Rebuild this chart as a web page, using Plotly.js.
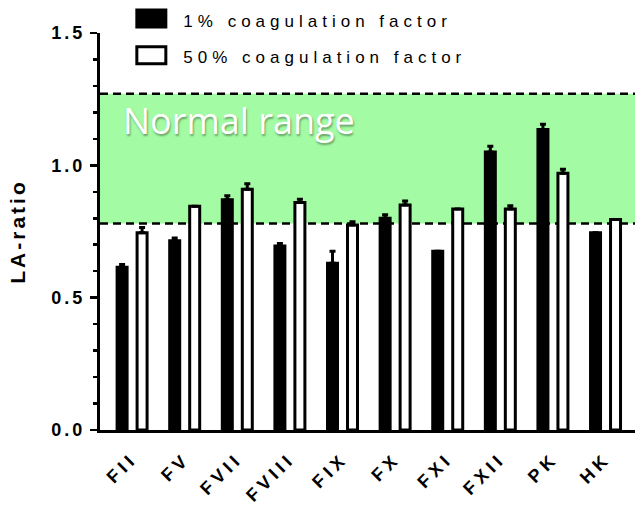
<!DOCTYPE html>
<html>
<head>
<meta charset="utf-8">
<script src="https://cdn.plot.ly/plotly-3.0.1.min.js"></script>
<style>
  html, body { margin: 0; padding: 0; background: #fff; }
  #chart { width: 635px; height: 506px; }
  #chart .ytick text { letter-spacing: 3px; }
  #chart .xtick text { letter-spacing: 4.5px; }
  #chart .g-ytitle text { letter-spacing: 3px; }
</style>
</head>
<body>
<div id="chart"></div>
<script>
// ---- data ----
const categories = ["FII", "FV", "FVII", "FVIII", "FIX", "FX", "FXI", "FXII", "PK", "HK"];
const factor1Values = [0.615, 0.715, 0.870, 0.695, 0.630, 0.800, 0.675, 1.050, 1.135, 0.745];
const factor1Errors = [0.010, 0.010, 0.015, 0.010, 0.045, 0.013, 0.000, 0.022, 0.020, 0.000];
const factor50Values = [0.745, 0.845, 0.910, 0.860, 0.775, 0.850, 0.835, 0.835, 0.970, 0.795];
const factor50Errors = [0.020, 0.000, 0.020, 0.012, 0.012, 0.015, 0.000, 0.012, 0.015, 0.000];
const normalRange = [0.78, 1.27];
const seriesNames = ["1% coagulation factor", "50% coagulation factor"];
const yTickValues = [0, 0.5, 1.0, 1.5];

const fontFamily = "Liberation Sans, Arial, sans-serif";
const zeros = categories.map(() => 0);

const traces = [
  {
    type: "bar",
    name: seriesNames[0],
    legendgroup: "g1",
    x: categories,
    y: factor1Values,
    marker: { color: "#000000", line: { color: "#000000", width: 3 } },
    error_y: { type: "data", array: factor1Errors, arrayminus: zeros, symmetric: false,
               color: "#000000", thickness: 3, width: 3 }
  },
  {
    type: "bar",
    name: seriesNames[1],
    legendgroup: "g2",
    x: categories,
    y: factor50Values,
    marker: { color: "#ffffff", line: { color: "#000000", width: 3 } },
    error_y: { type: "data", array: factor50Errors, arrayminus: zeros, symmetric: false,
               color: "#000000", thickness: 3, width: 3 }
  }
];

const layout = {
  width: 635,
  height: 506,
  margin: { l: 100, r: 0, t: 33, b: 76 },
  paper_bgcolor: "#ffffff",
  plot_bgcolor: "rgba(0,0,0,0)",
  font: { family: fontFamily, color: "#000000" },
  barmode: "group",
  bargap: 0.24,
  bargroupgap: 0.5,
  showlegend: true,
  legend: {
    x: 0.081, y: 1.077, xanchor: "left", yanchor: "top",
    traceorder: "grouped", tracegroupgap: 11.5,
    bgcolor: "rgba(0,0,0,0)", borderwidth: 0,
    font: { family: fontFamily, size: 17, color: "#000000" }
  },
  xaxis: {
    type: "category",
    range: [-0.61, 9.56],
    showline: true, linewidth: 3, linecolor: "#000000",
    ticks: "", showgrid: false, zeroline: false,
    tickangle: -45,
    ticklabelstandoff: 8,
    tickfont: { family: fontFamily, size: 18, weight: "bold", color: "#000000" },
    fixedrange: true
  },
  yaxis: {
    range: [0, 1.5],
    showline: true, linewidth: 3, linecolor: "#000000",
    showgrid: false, zeroline: false,
    ticks: "outside", ticklen: 7, tickwidth: 2.5, tickcolor: "#000000",
    tickvals: yTickValues,
    tickformat: ".1f",
    ticklabelstandoff: 1,
    tickfont: { family: fontFamily, size: 18, weight: "bold", color: "#000000" },
    minor: { dtick: 0.1, ticks: "outside", ticklen: 4, tickwidth: 2.5, tickcolor: "#000000", showgrid: false },
    title: { text: "LA-ratio", standoff: 30,
             font: { family: fontFamily, size: 21, weight: "bold", color: "#000000" } },
    fixedrange: true
  },
  shapes: [
    { type: "rect", xref: "paper", yref: "y", x0: 0, x1: 1, y0: normalRange[0], y1: normalRange[1],
      fillcolor: "#a3fca3", line: { width: 0 }, layer: "below" },
    { type: "line", xref: "paper", yref: "y", x0: 0, x1: 1, y0: normalRange[0], y1: normalRange[0],
      line: { color: "#000000", width: 2.5, dash: "8px,5px" }, layer: "below" },
    { type: "line", xref: "paper", yref: "y", x0: 0, x1: 1, y0: normalRange[1], y1: normalRange[1],
      line: { color: "#000000", width: 2.5, dash: "8px,5px" }, layer: "below" }
  ],
  annotations: [
    { text: "Normal range", xref: "paper", yref: "y", x: 0.039, y: 1.17,
      xanchor: "left", yanchor: "middle", showarrow: false,
      font: { family: "Open Sans, Noto Sans, sans-serif", size: 36, color: "#ffffff",
              shadow: "1px 2px 2px rgba(60,90,60,0.55)" } }
  ]
};

// Enlarge the legend swatches and space out legend text (Prism-like look)
function styleLegends(gd) {
  gd.querySelectorAll(".infolayer [clip-path]").forEach(e => e.removeAttribute("clip-path"));
  gd.querySelectorAll(".infolayer g.traces").forEach(item => {
    const text = item.querySelector(".legendtext");
    const path = item.querySelector(".legendpoints path");
    if (!text || !path) return;
    text.style.letterSpacing = "5px";
    const tb = text.getBoundingClientRect();
    const cx = tb.left - 32;
    const cy = (tb.top + tb.bottom) / 2 - 2.5;
    const inv = path.getScreenCTM().inverse();
    const p0 = new DOMPoint(cx - 14.5, cy - 8.5).matrixTransform(inv);
    const p1 = new DOMPoint(cx + 14.5, cy + 8.5).matrixTransform(inv);
    path.setAttribute("d", `M${p1.x},${p1.y}H${p0.x}V${p0.y}H${p1.x}Z`);
    path.style.stroke = "#000000";
    path.style.strokeWidth = "3px";
  });
  return gd;
}

Plotly.newPlot("chart", traces, layout, { staticPlot: true, displayModeBar: false })
  .then(gd => { styleLegends(gd); setTimeout(() => styleLegends(gd), 0); });
</script>
</body>
</html>
